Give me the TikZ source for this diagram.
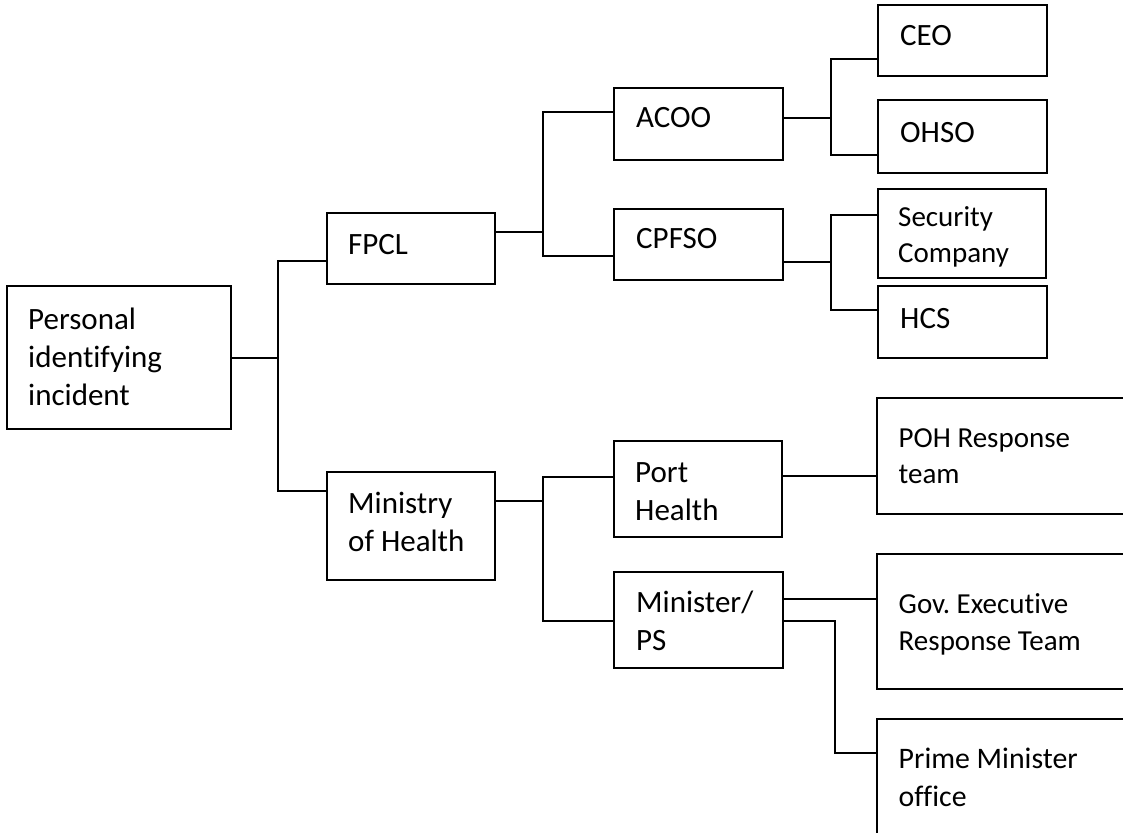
\documentclass[tikz,border=0pt]{standalone}
\usepackage{fontspec}
\setmainfont{Carlito}[Ligatures=NoCommon]
\frenchspacing
\begin{document}
\begin{tikzpicture}[x=1pt,y=-1pt]
\tikzset{
 box/.style={draw=black,line width=2pt,inner sep=0pt,outer sep=0pt,rectangle},
 txt/.style={anchor=base west,inner sep=0pt,align=left,font=\fontsize{31}{38}\selectfont},
 stxt/.style={txt,font=\fontsize{29}{35.5}\selectfont},
 ptxt/.style={txt,font=\fontsize{29.8}{38}\selectfont},
 wire/.style={line width=2pt}
}
\path[use as bounding box] (0,0) rectangle (1123,832);
\clip (0,0) rectangle (1123,832);

% boxes
\node[box,minimum width=224pt,minimum height=143pt] (pers) at (119,357.5) {};
\node[box,minimum width=168pt,minimum height=71pt] (fpcl) at (411,248.5) {};
\node[box,minimum width=168pt,minimum height=108pt] (moh) at (411,526) {};
\node[box,minimum width=169pt,minimum height=72pt] (acoo) at (698.5,124) {};
\node[box,minimum width=169pt,minimum height=71pt] (cpfso) at (698.5,244.5) {};
\node[box,minimum width=168pt,minimum height=96pt] (ph) at (698,489) {};
\node[box,minimum width=169pt,minimum height=96pt] (mps) at (698.5,620) {};
\node[box,minimum width=169pt,minimum height=71pt] (ceo) at (962.5,40.5) {};
\node[box,minimum width=169pt,minimum height=73pt] (ohso) at (962.5,136.5) {};
\node[box,minimum width=168pt,minimum height=89pt] (sec) at (962,233.5) {};
\node[box,minimum width=169pt,minimum height=72pt] (hcs) at (962.5,322) {};
\node[box,minimum width=263pt,minimum height=116pt] (poh) at (1008.5,456) {};
\node[box,minimum width=263pt,minimum height=135pt] (gov) at (1008.5,621.5) {};
\node[box,minimum width=263pt,minimum height=131pt] (pm) at (1008.5,784.5) {};

% texts (anchor = baseline of the last line)
\node[txt] (perst) at ([shift={(21pt,-119pt)}]pers.north west) {Personal\\identifying\\incident};
\node[txt] (fpclt) at ([shift={(21pt,-41pt)}]fpcl.north west) {FPCL};
\node[txt] (moht) at ([shift={(21pt,-79pt)}]moh.north west) {Ministry\\of Health};
\node[txt] (acoot) at ([shift={(22pt,-40pt)}]acoo.north west) {ACOO};
\node[txt] (cpfsot) at ([shift={(22pt,-39pt)}]cpfso.north west) {CPFSO};
\node[txt] (pht) at ([shift={(21pt,-79pt)}]ph.north west) {Port\\Health};
\node[txt] (mpst) at ([shift={(22pt,-78pt)}]mps.north west) {Minister/\\PS};
\node[txt] (ceot) at ([shift={(22pt,-41pt)}]ceo.north west) {CEO};
\node[txt] (ohsot) at ([shift={(22pt,-42pt)}]ohso.north west) {OHSO};
\node[stxt] (sect) at ([shift={(20pt,-73pt)}]sec.north west) {Security\\Company};
\node[txt] (hcst) at ([shift={(22pt,-42pt)}]hcs.north west) {HCS};
\node[stxt] (poht) at ([shift={(21.5pt,-85pt)}]poh.north west) {POH Response\\team};
\node[stxt,font=\fontsize{29}{37}\selectfont] (govt) at ([shift={(21.5pt,-96pt)}]gov.north west) {Gov. Executive\\Response Team};
\node[ptxt] (pmt) at ([shift={(21.5pt,-87pt)}]pm.north west) {Prime Minister\\office};

% junction points
\coordinate (b1) at (277.5,357.5);
\coordinate (b2) at (542.5,232);
\coordinate (b3) at (831,118);
\coordinate (b4) at (831,262);
\coordinate (b5) at (542.5,501);
\coordinate (b6) at (834.5,621);

% connectors
\draw[wire] (pers.east) -- (b1);
\draw[wire] ([yshift=-12.5pt]fpcl.west) -| (b1) |- ([yshift=35pt]moh.west);
\draw[wire] ([yshift=16.5pt]fpcl.east) -- (b2);
\draw[wire] ([yshift=12pt]acoo.west) -| (b2) |- ([yshift=-11.5pt]cpfso.west);
\draw[wire] ([yshift=6pt]acoo.east) -- (b3);
\draw[wire] ([yshift=-18.5pt]ceo.west) -| (b3) |- ([yshift=-18.5pt]ohso.west);
\draw[wire] ([yshift=-17.5pt]cpfso.east) -- (b4);
\draw[wire] ([yshift=18.5pt]sec.west) -| (b4) |- ([yshift=12pt]hcs.west);
\draw[wire] ([yshift=25pt]moh.east) -- (b5);
\draw[wire] ([yshift=12pt]ph.west) -| (b5) |- ([yshift=-1pt]mps.west);
\draw[wire] ([yshift=13pt]ph.east) -- ([yshift=13pt]ph.east -| poh.west);
\draw[wire] ([yshift=21pt]mps.east) -- ([yshift=21pt]mps.east -| gov.west);
\draw[wire] ([yshift=-1pt]mps.east) -- (b6) |- ([yshift=31.5pt]pm.west);
\end{tikzpicture}
\end{document}
